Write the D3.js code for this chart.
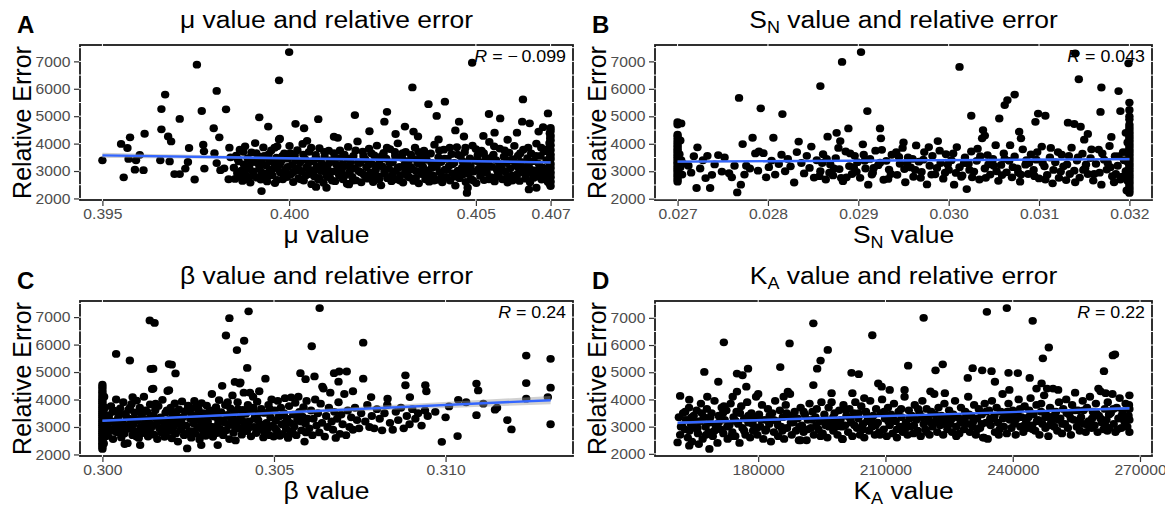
<!DOCTYPE html>
<html>
<head>
<meta charset="utf-8">
<script src="https://cdn.jsdelivr.net/npm/d3@7"></script>
<style>
  body { margin: 0; background: #fff; }
  svg { display: block; font-family: "Liberation Sans", Arial, sans-serif; }
</style>
</head>
<body>
<svg id="chart" width="1165" height="508"></svg>
<script>
// ---- data: [parameter value, relative error] ----
const muPoints = [
  [0.395,3390],[0.39550,3990],[0.39557,2770],[0.39567,3840],[0.39574,4230],[0.39570,3440],[0.39587,3050],[0.39590,3390],
  [0.39600,3590],[0.39613,4360],[0.39610,3030],[0.39658,5260],[0.39658,4520],[0.39655,3390],[0.39668,5790],[0.39676,4260],
  [0.39684,4080],[0.39680,3350],[0.39693,2890],[0.39707,4900],[0.39707,2890],[0.39722,3090],[0.39732,3840],[0.39729,3330],
  [0.39747,2690],[0.39753,6880],[0.39766,5190],[0.39770,3960],[0.39772,3720],[0.39773,3090],[0.39798,4560],[0.39806,5920],
  [0.39813,4230],[0.39800,3650],[0.39806,3290],[0.39816,3030],[0.39831,5250],[0.39826,3100],[0.39838,2700],[0.39843,3500],[0.39840,3850],
  [0.39852,3120],[0.39855,2710],[0.39858,3560],[0.39861,2930],[0.39865,3350],[0.39868,3780],[0.39872,3010],[0.39875,2640],
  [0.39879,3240],[0.39882,3900],[0.39886,2820],[0.39889,3470],[0.39893,3150],[0.39896,2580],[0.39899,3680],[0.39903,2990],
  [0.39906,3330],[0.39909,4020],[0.39913,2760],[0.39917,3540],[0.39920,3080],[0.39924,2690],[0.39927,3410],[0.39931,3860],
  [0.39934,2900],[0.39938,3200],[0.39941,2620],[0.39945,3610],[0.39948,3020],[0.39952,3750],[0.39955,2840],[0.39959,3300],
  [0.39962,2560],[0.39966,3490],[0.39969,3100],[0.39973,4150],[0.39976,2950],[0.39980,3380],[0.39983,2700],[0.39987,3640],
  [0.39990,3050],[0.39994,2780],[0.39997,3450],[0.40001,3920],[0.40004,2870],[0.40008,3220],[0.40011,2600],[0.40015,3580],
  [0.40018,3010],[0.40022,3760],[0.40025,2730],[0.40029,3310],[0.40032,2980],[0.40036,3990],[0.40039,2650],[0.40043,3420],
  [0.40046,3130],[0.40050,2880],[0.40053,3700],[0.40057,3040],[0.40060,2520],[0.40064,3360],[0.40067,2810],[0.40071,3590],
  [0.40074,3180],[0.40078,2690],[0.40081,3830],[0.40085,3000],[0.40088,3270],[0.40092,2570],[0.40095,3520],[0.40099,2920],
  [0.40102,3110],[0.40106,3740],[0.40109,2760],[0.40113,3400],[0.40116,2980],[0.40120,3650],[0.40123,2630],[0.40127,3230],
  [0.40130,4210],[0.40134,2850],[0.40137,3480],[0.40141,3070],[0.40144,2700],[0.40148,3600],[0.40151,3190],[0.40155,2540],
  [0.40158,3880],[0.40162,2960],[0.40165,3340],[0.40169,2790],[0.40172,3550],[0.40176,3100],[0.40179,2660],[0.40183,4080],
  [0.40186,3000],[0.40190,3290],[0.40193,2590],[0.40197,3710],[0.40200,2870],[0.40204,3420],[0.40207,3140],[0.40211,2720],
  [0.40214,3820],[0.40218,2950],[0.40221,3260],[0.40225,2600],[0.40228,3570],[0.40232,3050],[0.40235,3930],[0.40239,2800],
  [0.40242,3380],[0.40246,2480],[0.40249,3170],[0.40253,3660],[0.40256,2900],[0.40260,3450],[0.40263,2740],[0.40267,3090],
  [0.40270,3800],[0.40274,2630],[0.40277,3320],[0.40281,2980],[0.40284,3560],[0.40288,2700],[0.40291,4010],[0.40295,3150],
  [0.40298,2850],[0.40302,3480],[0.40305,2580],[0.40309,3230],[0.40312,3700],[0.40316,2930],[0.40319,3370],[0.40323,2760],
  [0.40326,3600],[0.40330,3060],[0.40333,2640],[0.40337,3850],[0.40340,3000],[0.40344,3280],[0.40347,2550],[0.40351,3520],
  [0.40354,2890],[0.40358,3160],[0.40361,3740],[0.40365,2700],[0.40368,3410],[0.40372,3020],[0.40375,2610],[0.40379,3640],
  [0.40382,3110],[0.40386,2830],[0.40389,3960],[0.40393,3250],[0.40396,2680],[0.40400,3500],[0.40403,2960],[0.40407,3330],
  [0.40410,2590],[0.40414,3780],[0.40417,3050],[0.40421,2790],[0.40424,3440],[0.40428,3180],[0.40431,2650],[0.40435,3620],
  [0.40438,2910],[0.40442,3300],[0.40445,2470],[0.40449,3870],[0.40452,3010],[0.40456,2740],[0.40459,3540],[0.40463,3120],
  [0.40466,2880],[0.40470,3690],[0.40473,2600],[0.40477,3260],[0.40480,3040],[0.40484,3460],[0.40487,2710],[0.40491,3930],
  [0.40494,2980],[0.40498,3370],[0.40501,2560],[0.40505,3580],[0.40508,3090],[0.40512,2820],[0.40515,3740],[0.40519,3200],
  [0.40522,2670],[0.40526,3480],[0.40529,2940],[0.40533,3310],[0.40536,4060],[0.40540,2780],[0.40543,3150],[0.40547,3600],
  [0.40550,2620],[0.40554,3400],[0.40557,3030],[0.40561,2860],[0.40564,3820],[0.40568,3240],[0.40571,2700],[0.40575,3520],
  [0.40578,2990],[0.40582,3290],[0.40585,2580],[0.40589,3670],[0.40592,3100],[0.40596,2840],[0.40599,3430],[0.40603,3920],
  [0.40606,2750],[0.40610,3170],[0.40613,3560],[0.40617,2640],[0.40620,3330],[0.40624,2960],[0.40627,3780],[0.40631,3060],
  [0.40634,2720],[0.40638,3470],[0.40641,3210],[0.40645,2590],[0.40648,3640],[0.40652,2900],[0.40655,3360],[0.40659,3020],
  [0.40662,4000],[0.40666,2800],[0.40669,3260],[0.40673,3550],[0.40676,2690],[0.40680,3120],[0.40683,3720],[0.40687,2940],
  [0.39862,3450],[0.39870,2850],[0.39877,3700],[0.39884,3050],[0.39891,2700],[0.39898,3350],[0.39905,2850],[0.39912,3650],
  [0.39919,3250],[0.39926,2950],[0.39933,3550],[0.39940,2780],[0.39947,3350],[0.39954,3050],[0.39961,3850],[0.39968,2680],
  [0.39975,3250],[0.39982,3550],[0.39989,2880],[0.39996,3150],[0.40003,3650],[0.40010,2950],[0.40017,3400],[0.40024,3100],
  [0.40031,2700],[0.40038,3600],[0.40045,2850],[0.40052,3300],[0.40059,3850],[0.40066,3000],[0.40073,3450],[0.40080,2750],
  [0.40087,3150],[0.40094,3700],[0.40101,2800],[0.40108,3300],[0.40115,2650],[0.40122,3450],[0.40129,3000],[0.40136,3750],
  [0.40143,3250],[0.40150,2850],[0.40157,3450],[0.40164,3100],[0.40171,2650],[0.40178,3750],[0.40185,3300],[0.40192,2950],
  [0.40199,3550],[0.40206,2780],[0.40213,3250],[0.40220,3650],[0.40227,2850],[0.40234,3200],[0.40241,2700],[0.40248,3550],
  [0.40255,3000],[0.40262,3850],[0.40269,3300],[0.40276,2850],[0.40283,3700],[0.40290,3100],[0.40297,2650],[0.40304,3650],
  [0.40311,3000],[0.40318,2800],[0.40325,3150],[0.40332,3450],[0.40339,2750],[0.40346,3700],[0.40353,3250],[0.40360,2950],
  [0.40367,3600],[0.40374,2850],[0.40381,3300],[0.40388,2650],[0.40395,3150],[0.40402,3750],[0.40409,2800],[0.40416,3450],
  [0.40423,3050],[0.40430,3850],[0.40437,3250],[0.40444,2800],[0.40451,3600],[0.40458,2900],[0.40465,3350],[0.40472,3850],
  [0.40479,2900],[0.40486,3150],[0.40493,2650],[0.40500,3800],[0.40507,3350],[0.40514,2950],[0.40521,3650],[0.40528,3100],
  [0.40535,2700],[0.40542,3500],[0.40549,3900],[0.40556,2800],[0.40563,3250],[0.40570,3050],[0.40577,3750],[0.40584,2800],
  [0.40591,3400],[0.40598,2650],[0.40605,3300],[0.40612,2900],[0.40619,3650],[0.40626,3150],[0.40633,2850],[0.40640,3850],
  [0.40647,3050],[0.40654,2750],[0.40661,3550],[0.40668,3000],[0.40675,3850],[0.40682,2850],[0.40689,3400],
  [0.40700,2450],[0.40698,2530],[0.40700,2610],[0.40697,2700],[0.40700,2770],[0.40699,2860],[0.40700,2950],[0.40696,3020],
  [0.40700,3110],[0.40698,3200],[0.40700,3260],[0.40697,3350],[0.40700,3440],[0.40699,3520],[0.40700,3600],[0.40696,3690],
  [0.40700,3770],[0.40698,3850],[0.40700,3940],[0.40697,4020],[0.40700,4110],[0.40699,4200],[0.40700,4290],[0.40698,4380],
  [0.40700,4460],[0.40700,4570],[0.40693,2980],[0.40694,3400],[0.40692,3800],[0.40693,2600],
  [0.39926,2270],[0.39920,4960],[0.39944,4620],[0.39973,6310],[0.40000,7340],[0.39968,3900],[0.40017,4720],[0.40040,4560],
  [0.40078,4890],[0.40072,2420],[0.40100,2390],[0.40176,5040],[0.40160,2510],[0.40262,5160],[0.40255,4800],[0.40310,4620],
  [0.40330,6050],[0.40333,4440],[0.40345,4260],[0.40373,5440],[0.40395,5010],[0.40417,5530],[0.40455,4800],[0.40468,4260],
  [0.40490,6950],[0.40476,2200],[0.40478,2390],[0.40535,5080],[0.40565,4920],[0.40550,4400],[0.40585,4140],[0.40626,5610],
  [0.40624,4800],[0.40644,4740],[0.40668,4440],[0.40693,5100],[0.40662,2390],[0.40642,2330],[0.40120,4250],[0.40215,4450],
  [0.40285,4350],[0.40400,4150],[0.40520,4280],[0.40610,4400],[0.40680,4600],[0.39975,4180],[0.40048,4100],[0.40445,4480]
];

const snPoints = [
  [0.02700,2620],[0.02700,2700],[0.02700,2790],[0.02700,2860],[0.02700,2950],[0.02700,3030],[0.02700,3100],[0.02700,3180],
  [0.02700,3260],[0.02700,3330],[0.02700,3410],[0.02700,3490],[0.02700,3560],[0.02700,3640],[0.02700,3720],[0.02700,3800],
  [0.02700,3880],[0.02700,3960],[0.02700,4050],[0.02700,4150],[0.02700,4260],[0.02700,4330],[0.02700,4700],[0.02700,4790],
  [0.02703,3150],[0.02704,3400],[0.02702,3620],[0.02705,2880],[0.02703,4120],[0.02706,3280],[0.02704,4740],
  [0.02712,3200],[0.02715,2950],[0.02718,3550],[0.02721,2390],[0.02722,3870],[0.02725,3100],[0.02728,3400],[0.02731,2750],
  [0.02733,3560],[0.02736,2390],[0.02738,2870],[0.02741,3250],[0.02745,3590],[0.02749,2990],[0.02752,3500],[0.02757,2930],
  [0.02760,2780],[0.02763,3200],[0.02766,2230],[0.02768,5670],[0.02770,2510],[0.02772,3990],[0.02774,2880],[0.02776,3200],
  [0.02780,3100],[0.02783,4220],[0.02786,3650],[0.02789,3020],[0.02792,5290],[0.02790,3720],[0.02795,3660],[0.02798,2780],
  [0.02801,3150],[0.02804,3390],[0.02806,4220],[0.02808,2880],[0.02812,3260],[0.02815,3600],[0.02816,5080],[0.02819,3000],
  [0.02822,3450],[0.02825,3180],[0.02829,2590],[0.02832,3700],[0.02834,4080],[0.02837,3300],[0.02840,2920],[0.02843,3560],
  [0.02846,3120],[0.02848,3900],[0.02851,2770],[0.02854,3400],
  [0.02858,6100],[0.02858,3000],[0.02861,3620],[0.02864,2700],[0.02866,4260],[0.02869,3250],[0.02872,2850],[0.02875,3480],
  [0.02876,4400],[0.02879,3080],[0.02882,6980],[0.02883,2640],[0.02886,3720],[0.02889,4560],[0.02890,3190],[0.02893,2900],
  [0.02896,3560],[0.02899,3330],[0.02902,2760],[0.02903,7340],[0.02905,3980],[0.02908,3100],[0.02910,5190],[0.02911,2510],
  [0.02913,3450],[0.02916,2950],[0.02919,3750],[0.02922,3220],[0.02925,4200],[0.02928,2690],[0.02931,3380],[0.02934,3060],
  [0.02937,3600],[0.02924,4560],[0.02943,2870],[0.02946,3270],[0.02949,3850],[0.02952,2600],[0.02955,3500],[0.02958,3140],
  [0.02961,2800],[0.02964,3940],[0.02967,3350],[0.02970,2980],[0.02973,3700],[0.02976,2520],[0.02979,3200],[0.02982,3560],
  [0.02985,2890],[0.02988,4100],[0.02991,3300],[0.02994,2730],[0.02997,3620],[0.03000,3050],[0.03003,3400],[0.03006,2510],
  [0.03009,3880],[0.03012,6800],[0.03012,3150],[0.03015,2850],[0.03018,3500],[0.03020,2350],[0.03022,3270],[0.03025,5020],
  [0.03025,3720],[0.03028,2990],[0.03031,3380],[0.03034,2700],[0.03037,4200],[0.03038,4500],[0.03040,3100],[0.03043,3590],
  [0.03046,2880],[0.03049,3450],[0.03052,3950],[0.03055,2650],[0.03056,4920],[0.03058,3230],[0.03061,3650],[0.03062,5410],
  [0.03064,2960],[0.03065,5590],[0.03067,3380],[0.03070,2780],[0.03073,5790],[0.03073,3540],[0.03076,3100],[0.03078,4440],
  [0.03079,2620],[0.03082,3800],[0.03085,3240],[0.03088,2900],[0.03091,3610],[0.03094,3050],[0.03096,4800],[0.03097,3420],
  [0.03099,5100],[0.03100,2740],[0.03103,3900],[0.03106,3180],[0.03107,5020],[0.03109,2870],[0.03112,3500],[0.03115,2560],
  [0.03118,3330],[0.03121,3700],[0.03124,2990],[0.03127,3180],[0.03140,7290],[0.03130,2680],[0.03132,4770],[0.03133,3560],
  [0.03136,3860],[0.03139,3020],[0.03139,4720],[0.03142,3390],[0.03145,2770],[0.03144,6350],[0.03146,4620],[0.03148,3640],
  [0.03151,3110],[0.03154,4360],[0.03154,2900],[0.03157,3480],[0.03160,2660],[0.03163,3270],[0.03166,3790],[0.03169,6050],
  [0.03168,5160],[0.03169,2510],[0.03172,3420],[0.03175,3060],[0.03178,3920],[0.03181,2820],[0.03184,3550],[0.03187,3200],
  [0.03188,5920],[0.03190,5190],[0.03190,2700],[0.03193,3700],[0.03196,3000],[0.03196,4400],
  [0.02860,3300],[0.02868,2950],[0.02878,3850],[0.02887,2780],[0.02895,3150],[0.02906,3600],[0.02915,2880],[0.02924,3310],
  [0.02933,2720],[0.02942,3700],[0.02951,3080],[0.02960,3450],[0.02969,2760],[0.02978,3880],[0.02987,3120],[0.02996,2950],
  [0.03005,3650],[0.03014,2800],[0.03023,3050],[0.03032,3820],[0.03041,2760],[0.03050,3200],[0.03059,2860],[0.03068,3950],
  [0.03077,2950],[0.03086,3400],[0.03095,2820],[0.03104,3300],[0.03113,3850],[0.03122,2760],[0.03131,3250],[0.03140,2600],
  [0.03149,3050],[0.03158,3800],[0.03167,2950],[0.03176,3300],[0.03185,2900],[0.03194,3400],
  [0.02857,2820],[0.02865,3450],[0.02873,3100],[0.02881,2760],[0.02891,3650],[0.02898,2980],[0.02907,3380],[0.02917,3120],
  [0.02926,3780],[0.02936,2900],[0.02945,3520],[0.02954,3300],[0.02963,3050],[0.02972,3420],[0.02981,2880],[0.02990,3750],
  [0.02999,3250],[0.03008,2940],[0.03017,3300],[0.03026,2780],[0.03035,3550],[0.03044,3250],[0.03053,3000],[0.03062,3450],
  [0.03071,3150],[0.03080,2880],[0.03089,3300],[0.03098,3700],[0.03107,2700],[0.03116,3050],[0.03125,3600],[0.03134,2900],
  [0.03143,3500],[0.03152,3250],[0.03161,2900],[0.03170,3650],[0.03179,3150],[0.03188,3550],[0.03192,2800],[0.03183,2600],
  [0.02880,4100],[0.02950,4050],[0.03040,4300],[0.03080,4200],[0.03150,4150],[0.03180,4250],
  [0.03200,2210],[0.03200,2290],[0.03200,2380],[0.03200,2460],[0.03200,2550],[0.03200,2630],[0.03200,2720],[0.03200,2800],
  [0.03200,2880],[0.03200,2970],[0.03200,3050],[0.03200,3130],[0.03200,3220],[0.03200,3300],[0.03200,3390],[0.03200,3470],
  [0.03200,3560],[0.03200,3640],[0.03200,3730],[0.03200,3810],[0.03200,3900],[0.03200,3980],[0.03200,4070],[0.03200,4150],
  [0.03200,4240],[0.03200,4330],[0.03200,4420],[0.03200,4520],[0.03200,4610],[0.03200,4700],[0.03200,4890],[0.03200,5000],
  [0.03200,5230],[0.03200,5500],[0.03199,6930],[0.03197,2300],[0.03198,2650],[0.03197,3000],[0.03198,3350],[0.03197,3700],
  [0.03198,4050]
];

const betaPoints = [
  [0.30000,2200],[0.30000,2270],[0.30000,2340],[0.30000,2410],[0.30000,2490],[0.30000,2560],[0.30000,2620],[0.30000,2700],
  [0.30000,2770],[0.30000,2840],[0.30000,2910],[0.30000,2990],[0.30000,3060],[0.30000,3130],[0.30000,3200],[0.30000,3270],
  [0.30000,3350],[0.30000,3420],[0.30000,3490],[0.30000,3560],[0.30000,3640],[0.30000,3710],[0.30000,3780],[0.30000,3860],
  [0.30000,3930],[0.30000,4010],[0.30000,4090],[0.30000,4170],[0.30000,4260],[0.30000,4350],[0.30000,4450],[0.30000,4540],
  [0.30004,2400],[0.30006,2900],[0.30003,3300],[0.30007,3700],[0.30005,4100],[0.30008,2650],[0.30004,3500],
  [0.30013,3050],[0.30016,2680],[0.30019,3420],[0.30022,2890],[0.30025,3760],[0.30028,3200],[0.30031,2560],[0.30034,3590],
  [0.30037,3010],[0.30040,4000],[0.30043,2800],[0.30046,3330],[0.30049,2950],[0.30052,3680],[0.30055,2620],[0.30058,3150],
  [0.30061,3900],[0.30064,2760],[0.30067,3480],[0.30070,3070],[0.30073,2410],[0.30076,3620],[0.30079,2930],[0.30082,3290],
  [0.30085,3840],[0.30088,2700],[0.30091,3110],[0.30094,3530],[0.30097,2850],[0.30100,3960],[0.30103,3240],[0.30106,2600],
  [0.30109,3700],[0.30112,3000],[0.30115,3380],[0.30118,2780],[0.30121,4100],[0.30124,3150],[0.30127,2900],[0.30130,3560],
  [0.30133,2650],[0.30136,3300],[0.30139,3820],[0.30142,2980],[0.30145,4380],[0.30148,3420],[0.30151,2720],[0.30154,3610],
  [0.30157,3090],[0.30160,2560],[0.30163,3760],[0.30166,2950],[0.30169,3350],[0.30172,2800],[0.30175,3990],[0.30178,3180],
  [0.30181,2640],[0.30184,3520],[0.30187,3040],[0.30190,4310],[0.30193,2880],[0.30196,3270],[0.30199,3700],[0.30202,2590],
  [0.30205,3450],[0.30208,3010],[0.30211,3860],[0.30214,2760],[0.30217,3200],[0.30220,2470],[0.30223,3640],[0.30226,3100],
  [0.30229,2900],[0.30232,3930],[0.30235,3370],[0.30238,2700],[0.30241,3560],[0.30244,3050],[0.30247,2220],[0.30250,3780],
  [0.30253,2850],[0.30256,3300],[0.30259,2610],[0.30262,3690],[0.30265,3140],[0.30268,3950],[0.30271,2760],[0.30274,3420],
  [0.30277,2980],[0.30280,3640],[0.30283,2540],[0.30286,3250],[0.30289,3870],[0.30292,2900],[0.30295,3500],[0.30298,3080],
  [0.30301,2680],[0.30304,3780],[0.30307,3200],[0.30310,2820],[0.30313,3600],[0.30316,3010],[0.30319,4200],[0.30322,2640],
  [0.30325,3380],[0.30328,3000],[0.30331,3720],[0.30334,2780],[0.30337,3300],[0.30340,3980],[0.30343,2930],[0.30346,3540],
  [0.30349,4500],[0.30352,2700],[0.30355,3170],[0.30358,3800],[0.30361,2880],[0.30364,3440],[0.30367,3060],[0.30370,2560],
  [0.30373,3680],[0.30376,3260],[0.30379,4150],[0.30382,2790],[0.30385,3560],[0.30388,2510],[0.30391,3100],[0.30394,3900],
  [0.30397,2950],[0.30400,4580],[0.30403,3380],[0.30406,2720],[0.30409,3620],[0.30412,4250],[0.30415,3040],[0.30418,3480],
  [0.30421,2850],[0.30424,3800],[0.30427,3200],[0.30430,4250],[0.30433,2660],[0.30436,3580],[0.30439,4100],[0.30442,3000],
  [0.30445,3420],[0.30448,2780],[0.30451,3920],[0.30454,3250],[0.30457,4300],[0.30460,2900],[0.30463,3660],[0.30466,3080],
  [0.30469,2620],[0.30472,3510],[0.30475,4760],[0.30478,3150],[0.30481,2940],[0.30484,3800],[0.30487,2700],[0.30490,3350],
  [0.30493,4000],[0.30496,3050],[0.30499,2650],[0.30502,3600],[0.30505,3230],[0.30508,2870],[0.30511,3950],[0.30514,3380],
  [0.30517,2680],[0.30520,3700],[0.30523,3100],[0.30526,2750],[0.30529,3500],[0.30532,4050],[0.30535,2950],[0.30538,3300],
  [0.30541,2600],[0.30544,3760],[0.30547,3150],[0.30550,4080],[0.30553,2850],[0.30556,3450],[0.30559,3020],[0.30562,3880],
  [0.30565,2700],[0.30568,3250],[0.30571,4100],[0.30574,3550],[0.30577,4960],[0.30580,2880],[0.30583,3380],[0.30586,3720],
  [0.30589,2470],[0.30592,3120],[0.30595,3950],[0.30598,3300],
  [0.30020,3250],[0.30035,2850],[0.30050,3450],[0.30065,3000],[0.30080,3700],[0.30095,3300],[0.30110,2800],[0.30125,3600],
  [0.30140,3100],[0.30155,3850],[0.30170,3250],[0.30185,2750],[0.30200,3150],[0.30215,3550],[0.30230,3250],[0.30245,2750],
  [0.30260,3450],[0.30275,3800],[0.30290,3150],[0.30305,3400],[0.30320,2900],[0.30335,3550],[0.30350,3250],[0.30365,3900],
  [0.30380,3350],[0.30395,3650],[0.30410,3200],[0.30425,2950],[0.30440,3700],[0.30455,3500],
  [0.30017,2950],[0.30030,3550],[0.30044,3150],[0.30057,2750],[0.30071,3350],[0.30086,3050],[0.30099,2650],[0.30113,3500],
  [0.30128,3050],[0.30143,2750],[0.30158,3300],[0.30173,2950],[0.30188,3600],[0.30203,2850],[0.30218,3350],[0.30233,3050],
  [0.30248,3650],[0.30263,2850],[0.30278,3250],[0.30293,2700],[0.30308,3050],[0.30323,3600],[0.30338,3150],[0.30353,2850],
  [0.30368,3400],[0.30383,3050],[0.30398,3250],[0.30413,2850],[0.30428,3600],[0.30443,3300],[0.30458,3100],[0.30473,2800],
  [0.30488,3650],[0.30503,2950],[0.30518,3400],[0.30533,3150],[0.30548,2750],[0.30563,3450],[0.30578,3200],[0.30593,2800],
  [0.30603,2950],[0.30608,3600],[0.30612,2700],[0.30615,3300],[0.30620,4000],[0.30624,3050],[0.30628,3500],[0.30632,2800],
  [0.30636,3850],[0.30640,3150],[0.30644,4400],[0.30648,2650],[0.30652,3400],[0.30656,3000],[0.30660,3700],[0.30664,4250],
  [0.30668,3200],[0.30672,2900],[0.30676,3550],[0.30680,2600],[0.30684,3300],[0.30688,3900],[0.30692,2750],[0.30696,3450],
  [0.30700,3100],[0.30705,4200],[0.30710,2700],[0.30715,3600],[0.30720,3000],[0.30725,3350],[0.30730,2900],[0.30736,3700],
  [0.30742,3250],[0.30748,2950],[0.30754,3500],[0.30760,4760],[0.30766,3200],[0.30772,3800],[0.30778,3000],[0.30785,3400],
  [0.30792,2950],[0.30800,3650],[0.30808,3300],[0.30815,2880],[0.30822,3500],[0.30830,3800],[0.30838,3150],[0.30846,2900],
  [0.30855,3550],[0.30862,3250],[0.30870,3700],[0.30878,2950],[0.30887,3400],[0.30895,3100],[0.30903,3650],[0.30912,3300],
  [0.30920,3500],[0.30930,3050],[0.30940,3600],[0.30948,3400],
  [0.30040,5660],[0.30080,5420],[0.30065,2380],[0.30110,2340],[0.30088,4090],[0.30138,6880],[0.30152,6790],[0.30141,5110],
  [0.30148,5120],[0.30148,4400],[0.30194,5290],[0.30202,5270],[0.30213,4950],[0.30194,4340],[0.30288,2340],[0.30336,2340],
  [0.30360,6330],[0.30370,6960],[0.30392,5800],[0.30413,6140],[0.30426,7210],[0.30422,5150],[0.30386,4640],[0.30402,4620],
  [0.30592,4740],[0.30610,5940],[0.30618,4840],[0.30633,7330],[0.30641,4470],[0.30675,4960],[0.30690,5020],[0.30712,5020],
  [0.30688,4650],[0.30730,4300],[0.30760,6070],[0.30783,4090],[0.30831,4030],[0.30883,4880],[0.30883,4520],[0.30896,4090],
  [0.30941,4520],[0.30944,4300],[0.30989,2460],[0.31035,2670],[0.31037,3990],[0.31090,4580],[0.31095,4330],[0.31090,3430],
  [0.31060,3900],[0.31144,3630],[0.31180,3250],[0.31192,2910],[0.31235,5600],[0.31235,4600],[0.31235,4030],[0.31306,5480],
  [0.31306,4430],[0.31306,3100],[0.31298,4090],[0.30970,3550],[0.31010,3750],[0.31110,3850],[0.31150,3700],[0.31000,3350]
];

const kaPoints = [
  [161300,3350],[161600,2700],[162000,3050],[162300,3500],[162700,2900],[163000,3250],[163400,2600],[163700,3700],
  [164100,3100],[164400,2450],[164800,3400],[165100,2950],[165500,3600],[165800,2750],[166200,3200],[166500,3850],
  [166900,2550],[167200,3350],[167600,3000],[167900,3650],[168300,2800],[168600,3150],[169000,3500],[169300,2650],
  [169700,3950],[170000,3050],[170400,2400],[170700,3400],[171100,2900],[171400,3700],[171800,2750],[172100,3250],
  [172500,3600],[172800,2550],[173200,3050],[173500,3850],[173900,2800],[174200,3350],[174600,2650],[174900,3550],
  [175300,3100],[175600,2400],[176000,3750],[176300,2950],[176700,3300],[177000,2700],[177400,3900],[177700,3150],
  [178100,2600],[178400,3500],[178800,2850],[179100,3300],[179500,4100],[179800,2700],[180200,3450],[180500,3000],
  [180900,3800],[181200,2550],[181600,3250],[181900,2900],[182300,3650],[182600,3100],[183000,2450],[183300,3500],
  [183700,2800],[184000,3950],[184400,3200],[184700,2650],[185100,3600],[185400,3000],[185800,3350],[186100,2550],
  [186500,3800],[186800,2950],[187200,3400],[187500,4200],[187900,2700],[188200,3150],[188600,3550],[188900,2850],
  [189300,3300],[189600,2500],[190000,3700],[190300,3050],[190700,2800],[191000,3450],[191400,2500],[191700,3250],
  [192100,3850],[192400,2950],[192800,3550],[193100,2700],[193500,3350],[193800,3650],[194200,2900],[194500,3200],
  [194900,3900],[195200,2750],[195600,3450],[195900,3050],[196300,2600],[196600,3700],[197000,3150],[197300,3900],
  [197700,2850],[198000,3500],[198400,3000],[198700,2700],[199100,3600],[199400,3250],[199800,2550],[200100,3800],
  [200500,3050],[200800,3400],[201200,2800],[201500,3650],[201900,3150],[202200,2650],[202600,3500],[202900,3900],
  [203300,2950],[203600,3300],[204000,2700],[204300,3750],[204700,3100],[205000,2600],[205400,3550],[205700,3200],
  [206100,2850],[206400,3950],[206800,3000],[207100,3400],[207500,2700],[207800,3650],[208200,3150],[208500,2800],
  [208900,3500],[209200,4000],[209600,2900],[209900,3300],[210300,2650],[210600,3700],[211000,3050],[211300,3450],
  [211700,2750],[212000,3850],[212400,3200],[212700,2600],[213100,3550],[213400,3000],[213800,3350],[214100,2800],
  [214500,4100],[214800,3150],[215200,2700],[215500,3600],[215900,3000],[216200,3400],[216600,2750],[216900,3800],
  [217300,3250],[217600,2850],[218000,3500],[218300,2650],[218700,3950],[219000,3100],[219400,2900],[219700,3650],
  [220100,3300],[220400,2700],[220800,3550],[221100,3000],[221500,4200],[221800,3200],[222200,2800],[222500,3700],
  [222900,3050],[223200,3400],[223600,2700],[223900,3850],[224300,3250],[224600,2900],[225000,3600],[225300,3100],
  [225700,2800],[226000,3450],[226400,3950],[226700,3000],[227100,3350],[227400,2750],[227800,3700],[228100,3200],
  [228500,2900],[228800,3550],[229200,3100],[229500,4100],[229900,2800],[230200,3400],[230600,3000],[230900,3800],
  [231300,2700],[231600,3300],[232000,3650],[232300,2950],[232700,3450],[233000,2600],[233400,3850],[233700,3150],
  [234100,2550],[234400,3600],[234800,3050],[235100,3950],[235500,3300],[235800,2800],[236200,3700],[236500,3150],
  [236900,2900],[237200,3550],[237600,4200],[237900,3000],[238300,3400],[238600,2750],[239000,3850],[239300,3250],
  [239700,2950],[240000,3600],[240400,3100],[240700,2700],[241100,3500],[241400,4000],[241800,3000],[242100,3350],
  [242500,2800],[242800,3750],[243200,3200],[243500,2950],[243900,3600],[244200,4050],[244600,3050],[244900,3450],
  [245300,2850],[245600,3800],[246000,3250],[246300,2700],[246700,3550],[247000,3100],[247400,4150],[247700,2950],
  [248100,3400],[248400,2650],[248800,3700],[249100,3200],[249500,4400],[249800,3000],[250200,3550],[250500,2850],
  [250900,3900],[251200,3300],[251600,2750],[251900,3650],[252300,3100],[252600,4000],[253000,2950],[253300,3450],
  [253700,2700],[254000,3800],[254400,3250],[254700,4250],[255100,3000],[255400,3600],[255800,2850],[256100,3350],
  [256500,3950],[256800,3100],[257200,2800],[257500,3700],[257900,3200],[258200,4100],[258600,2950],[258900,3550],
  [259300,3050],[259600,3850],[260000,2800],[260300,3400],[260700,4300],[261000,3150],[261400,2900],[261700,3650],
  [262100,3250],[262400,3900],[262800,2950],[263100,3500],[263500,4200],[263800,3100],[264200,2800],[264500,3700],
  [264900,3300],[265200,4050],[265600,2950],[265900,3550],[266300,3200],[266600,3850],[267000,3000],[267300,3400],
  [267500,2800],[267500,3650],[267500,4150],[267500,3250],
  [161800,3000],[162800,3550],[163800,2850],[164700,3200],[165700,2950],[166700,3500],[167700,2700],[168700,3350],
  [169700,2850],[170700,3150],[171700,3500],[172700,3000],[173700,2650],[174700,3200],[175700,3500],[176700,2850],
  [177700,3400],[178700,3100],[179700,2950],[180700,3250],[181700,2850],[182700,3400],[183700,3250],[184700,3050],
  [185700,2850],[186700,3500],[187700,3150],[188700,3300],[189700,3000],[190700,3550],[191700,2900],[192700,3250],
  [193700,3050],[194700,2650],[195700,3300],[196700,3000],[197700,3350],[198700,3200],[199700,3000],[200700,3600],
  [201700,3300],[202700,3050],[203700,3500],[204700,2900],[205700,3400],[206700,3250],[207700,3050],[208700,2700],
  [209700,3550],[210700,3200],[211700,3350],[212700,2900],[213700,3650],[214700,2950],[215700,3300],[216700,3050],
  [217700,3650],[218700,3350],[219700,2800],[220700,3150],[221700,3450],[222700,3200],[223700,3100],[224700,3350],
  [225700,3300],[226700,2650],[227700,3150],[228700,3300],[229700,3450],[230700,3200],[231700,2900],[232700,3100],
  [233700,3550],[234700,3300],[235700,3400],[236700,2700],[237700,3300],[238700,3550],[239700,3400],[240700,3250],
  [241700,3650],[242700,3050],[243700,3350],[244700,2900],[245700,3200],[246700,3850],[247700,3350],[248700,3050],
  [249700,3400],[250700,3250],[251700,3100],[252700,3500],[253700,3300],[254700,3600],[255700,3200],[256700,3600],
  [257700,3050],[258700,3300],[259700,3500],[260700,3300],[261700,3100],[262700,3450],[263700,3650],[264700,2900],
  [265700,3400],[266700,3300],[267400,3800],
  [161000,2420],[161600,4130],[163750,2300],[163750,3990],[164200,3330],[166000,2360],[167300,5010],[168000,4100],
  [168500,2180],[170600,4650],[171900,6100],[171900,3750],[174000,4100],[175000,4950],[176300,4890],[177600,5130],
  [177200,4470],[175000,4290],[180000,4200],[185200,5190],[187400,6060],[187000,4290],[186000,4100],[190000,2500],
  [193000,4530],[193000,6800],[193900,5130],[194700,5430],[196400,5820],[197300,4230],[199900,2540],[202000,4980],
  [203700,4930],[202200,4230],[205000,4050],[206900,6360],[208300,4590],[209100,4470],[211000,4350],[215350,5240],
  [214500,4350],[219000,7000],[220600,4300],[221800,5070],[223500,5290],[224000,4230],[229400,4790],[230550,5150],
  [233900,7220],[232800,5070],[233200,2600],[238600,7360],[235800,4650],[235000,5040],[239000,4980],[239200,4350],
  [244700,6890],[241200,4970],[244000,4790],[247100,5510],[248500,5910],[246800,4590],[245600,4400],[248100,4400],
  [250700,4350],[261500,5040],[263600,5620],[264100,5660],[260200,4400],[261900,4230],[262300,2850]
];

// fitted lines and their confidence band (half-width)
const muFit   = [[0.395, 3570], [0.407, 3315]];
const snFit   = [[0.027, 3350], [0.032, 3440]];
const betaFit = [[0.300, 3225], [0.31306, 3975]];
const kaFit   = [[161000, 3145], [267500, 3675]];
const muBand   = [[0.395, 95], [0.4025, 25], [0.407, 55]];
const snBand   = [[0.027, 50], [0.0296, 22], [0.032, 48]];
const betaBand = [[0.300, 40], [0.3025, 22], [0.31306, 150]];
const kaBand   = [[161000, 55], [213000, 22], [267500, 55]];

const muTicks   = [0.395, 0.400, 0.405, 0.407];
const snTicks   = [0.027, 0.028, 0.029, 0.030, 0.031, 0.032];
const betaTicks = [0.300, 0.305, 0.310];
const kaTicks   = [180000, 210000, 240000, 270000];
const errTicks  = [2000, 3000, 4000, 5000, 6000, 7000];
const rLabels   = ["\u2212\u20090.099", "0.043", "0.24", "0.22"];

const SX = 1.08;   // the figure is slightly stretched horizontally

const panels = [
  { letter: "A", sym: "\u03bc", sub: null, pts: muPoints, fit: muFit, band: muBand, ticks: muTicks, fmt: d3.format(".3f"),
    r: rLabels[0], x0: 80, x1: 573, y0: 45, y1: 200 },
  { letter: "B", sym: "S", sub: "N", pts: snPoints, fit: snFit, band: snBand, ticks: snTicks, fmt: d3.format(".3f"),
    r: rLabels[1], x0: 655, x1: 1152, y0: 45, y1: 200 },
  { letter: "C", sym: "\u03b2", sub: null, pts: betaPoints, fit: betaFit, band: betaBand, ticks: betaTicks, fmt: d3.format(".3f"),
    r: rLabels[2], x0: 80, x1: 573, y0: 301, y1: 456 },
  { letter: "D", sym: "K", sub: "A", pts: kaPoints, fit: kaFit, band: kaBand, ticks: kaTicks, fmt: d3.format("d"),
    r: rLabels[3], x0: 655, x1: 1152, y0: 301, y1: 456 }
];

const svg = d3.select("#chart");

function expand(ext) {
  const pad = (ext[1] - ext[0]) * 0.05;
  return [ext[0] - pad, ext[1] + pad];
}

// writes "<sym><sub> value" style labels into a text node
function symbolLabel(t, p, rest, size) {
  t.append("tspan").text(p.sym);
  if (p.sub) {
    t.append("tspan").attr("font-size", size * 0.68).attr("dy", size * 0.22).text(p.sub);
    t.append("tspan").attr("dy", -size * 0.22).text(rest);
  } else {
    t.append("tspan").text(rest);
  }
}

panels.forEach(p => {
  const g = svg.append("g");

  const x = d3.scaleLinear().domain(expand(d3.extent(p.pts, d => d[0]))).range([p.x0, p.x1]);
  const y = d3.scaleLinear().domain(expand(d3.extent(p.pts, d => d[1]))).range([p.y1, p.y0]);

  /*----- panel border + white grid lines cutting it -----*/
  g.append("rect")
    .attr("x", p.x0).attr("y", p.y0)
    .attr("width", p.x1 - p.x0).attr("height", p.y1 - p.y0)
    .attr("fill", "#fff").attr("stroke", "#1a1a1a").attr("stroke-width", 1.8);

  const ygrid = d3.range(2000, 7501, 500);
  g.selectAll(".gy").data(ygrid).enter().append("line")
    .attr("x1", p.x0 - 1).attr("x2", p.x1 + 1)
    .attr("y1", d => y(d)).attr("y2", d => y(d))
    .attr("stroke", "#fff").attr("stroke-width", 1);
  g.selectAll(".gx").data(p.ticks).enter().append("line")
    .attr("x1", d => x(d)).attr("x2", d => x(d))
    .attr("y1", p.y0 - 1).attr("y2", p.y1 + 1)
    .attr("stroke", "#fff").attr("stroke-width", 1);

  /*----- axes -----*/
  const xAxis = g.append("g")
    .attr("transform", `translate(0,${p.y1 + 1})`)
    .call(d3.axisBottom(x).tickValues(p.ticks).tickFormat(p.fmt).tickSize(5).tickPadding(3));
  const yAxis = g.append("g")
    .attr("transform", `translate(${p.x0 - 1},0)`)
    .call(d3.axisLeft(y).tickValues(errTicks).tickFormat(d3.format("d")).tickSize(5).tickPadding(3));
  [xAxis, yAxis].forEach(a => {
    a.select(".domain").remove();
    a.selectAll(".tick line").attr("stroke", "#333").attr("stroke-width", 1.2);
    a.selectAll(".tick text")
      .attr("fill", "#4d4d4d")
      .attr("font-size", 14.5)
      .attr("font-family", "Liberation Sans, Arial, sans-serif")
      .attr("transform", `scale(${SX},1)`);
  });

  /*----- points -----*/
  g.append("g").selectAll("ellipse").data(p.pts).enter().append("ellipse")
    .attr("cx", d => x(d[0])).attr("cy", d => y(d[1]))
    .attr("rx", 4.2).attr("ry", 3.9)
    .attr("fill", "#000");

  /*----- fit line and band -----*/
  const [f0, f1] = p.fit;
  const fitAt = v => f0[1] + (f1[1] - f0[1]) * (v - f0[0]) / (f1[0] - f0[0]);
  const band = d3.area()
    .x(d => x(d[0]))
    .y0(d => y(fitAt(d[0]) - d[1]))
    .y1(d => y(fitAt(d[0]) + d[1]))
    .curve(d3.curveNatural);
  g.append("path").attr("d", band(p.band))
    .attr("fill", "#999").attr("fill-opacity", 0.45);
  g.append("line")
    .attr("x1", x(f0[0])).attr("y1", y(f0[1]))
    .attr("x2", x(f1[0])).attr("y2", y(f1[1]))
    .attr("stroke", "#3366ff").attr("stroke-width", 2.4);

  /*----- texts -----*/
  const rText = g.append("text")
    .attr("transform", `translate(${p.x1 - 7},${p.y0 + 17}) scale(${SX},1)`)
    .attr("text-anchor", "end").attr("font-size", 16.5).attr("fill", "#000");
  rText.append("tspan").attr("font-style", "italic").text("R");
  rText.append("tspan").text(" = " + p.r);

  const title = g.append("text")
    .attr("transform", `translate(${(p.x0 + p.x1) / 2},${p.y0 - 17}) scale(${SX},1)`)
    .attr("text-anchor", "middle").attr("font-size", 24.5).attr("fill", "#000");
  symbolLabel(title, p, " value and relative error", 24.5);

  const xTitle = g.append("text")
    .attr("transform", `translate(${(p.x0 + p.x1) / 2},${p.y1 + 43}) scale(${SX},1)`)
    .attr("text-anchor", "middle").attr("font-size", 24.5).attr("fill", "#000");
  symbolLabel(xTitle, p, " value", 24.5);

  g.append("text")
    .attr("transform", `translate(${p.x0 - 49},${(p.y0 + p.y1) / 2}) rotate(-90)`)
    .attr("text-anchor", "middle").attr("font-size", 25).attr("fill", "#000")
    .text("Relative Error");

  g.append("text")
    .attr("x", p.x0 - 63).attr("y", p.y0 - 12)
    .attr("font-size", 24).attr("font-weight", "bold").attr("fill", "#000")
    .text(p.letter);
});
</script>
</body>
</html>
